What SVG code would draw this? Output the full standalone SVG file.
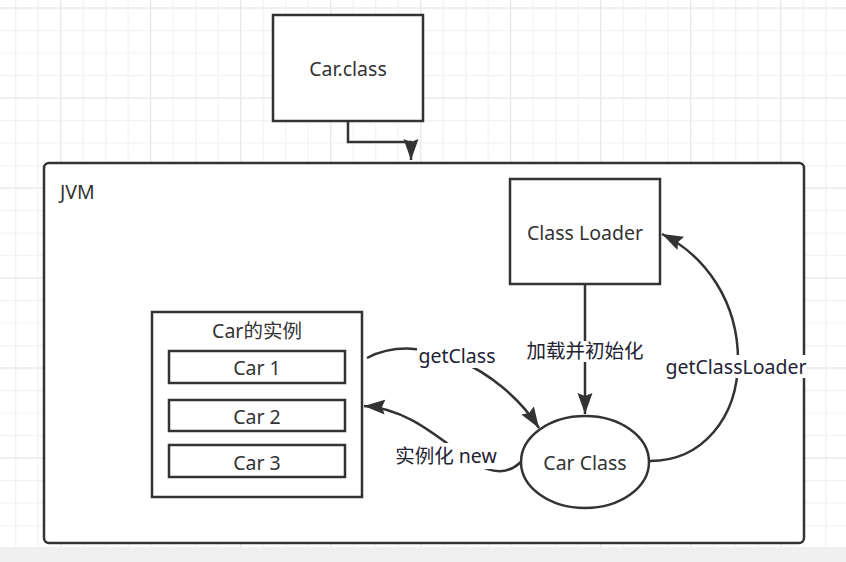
<svg xmlns="http://www.w3.org/2000/svg" width="846" height="562" viewBox="0 0 846 562">
  <defs>
    <pattern id="gridMinor" x="15" y="7.5" width="22.5" height="22.5" patternUnits="userSpaceOnUse">
      <path d="M0.5,0 V22.5 M0,0.5 H22.5" fill="none" stroke="#f3f3f3" stroke-width="1.6"/>
    </pattern>
    <pattern id="gridMajor" x="60" y="7.5" width="90" height="90" patternUnits="userSpaceOnUse">
      <path d="M0.5,0 V90 M0,0.5 H90" fill="none" stroke="#e9e9e9" stroke-width="1.6"/>
    </pattern>
    <marker id="arrow" markerUnits="userSpaceOnUse" markerWidth="24" markerHeight="18" viewBox="0 0 24 18" refX="21" refY="9" orient="auto">
      <path d="M0,1.5 L21,9 L0,16.5 L3,9 Z" fill="#333333"/>
    </marker>
    <style>
      .box { fill: #ffffff; stroke: #333333; stroke-width: 2.5; }
      .edge { fill: none; stroke: #333333; stroke-width: 2.5; }
      .txt { font-family: "Noto Sans", "Noto Sans CJK SC", "DejaVu Sans", sans-serif; font-size: 19.5px; fill: #333333; text-anchor: middle; }
      .lbl { font-family: "Noto Sans", "Noto Sans CJK SC", "DejaVu Sans", sans-serif; font-size: 19.5px; fill: #222233; text-anchor: middle; }
      .lblbg { fill: #ffffff; stroke: none; }
    </style>
  </defs>

  <!-- background grid -->
  <rect x="0" y="0" width="846" height="562" fill="#ffffff"/>
  <rect x="0" y="0" width="846" height="547" fill="url(#gridMinor)"/>
  <rect x="0" y="0" width="846" height="547" fill="url(#gridMajor)"/>
  <rect x="0" y="547" width="846" height="15" fill="#f0f0f0"/>

  <g id="jvm">
    <rect class="box" x="44" y="163" width="760" height="380" rx="5" ry="5"/>
    <text class="txt" x="60" y="199" style="text-anchor:start">JVM</text>
  </g>

  <g id="car-class-file">
    <rect class="box" x="273" y="15" width="150" height="106"/>
    <text class="txt" x="348" y="76">Car.class</text>
  </g>

  <g id="class-loader">
    <rect class="box" x="510" y="179" width="150" height="105"/>
    <text class="txt" x="585" y="240">Class Loader</text>
  </g>

  <g id="car-class">
    <ellipse class="box" cx="585" cy="462" rx="64" ry="46"/>
    <text class="txt" x="585" y="470">Car Class</text>
  </g>

  <g id="car-instances">
    <rect class="box" x="152" y="312" width="210" height="185"/>
    <text class="txt" x="257" y="338">Car的实例</text>
  </g>

  <g id="car1">
    <rect class="box" x="169" y="351" width="176" height="32"/>
    <text class="txt" x="257" y="375">Car 1</text>
  </g>

  <g id="car2">
    <rect class="box" x="169" y="400" width="176" height="31"/>
    <text class="txt" x="257" y="424">Car 2</text>
  </g>

  <g id="car3">
    <rect class="box" x="169" y="445" width="176" height="32"/>
    <text class="txt" x="257" y="470">Car 3</text>
  </g>

  <g id="connectors">
    <!-- Car.class -> JVM -->
    <path class="edge" d="M348,121 V142 H411 V160" marker-end="url(#arrow)"/>

    <!-- Class Loader -> Car Class -->
    <path class="edge" d="M585,284 V414" marker-end="url(#arrow)"/>
    <rect class="lblbg" x="526" y="341" width="118" height="21"/>
    <text class="lbl" x="585" y="358">加载并初始化</text>

    <!-- Car instances -> Car Class (getClass) -->
    <path class="edge" d="M367,358 C420,330 500,368 539,428" marker-end="url(#arrow)"/>
    <rect class="lblbg" x="417" y="343" width="80" height="25"/>
    <text class="lbl" x="457" y="363">getClass</text>

    <!-- Car Class -> Car instances (实例化 new) -->
    <path class="edge" d="M521,462 C480,500 440,410 364,406" marker-end="url(#arrow)"/>
    <rect class="lblbg" x="393" y="443" width="106" height="26"/>
    <text class="lbl" x="446" y="463">实例化 new</text>

    <!-- Car Class -> Class Loader (getClassLoader) -->
    <path class="edge" d="M650,461 C702,461 738,418 738,360 C738,302 706,256 662,234" marker-end="url(#arrow)"/>
    <rect class="lblbg" x="665" y="355" width="141" height="23"/>
    <text class="lbl" x="736" y="374">getClassLoader</text>
  </g>
</svg>
